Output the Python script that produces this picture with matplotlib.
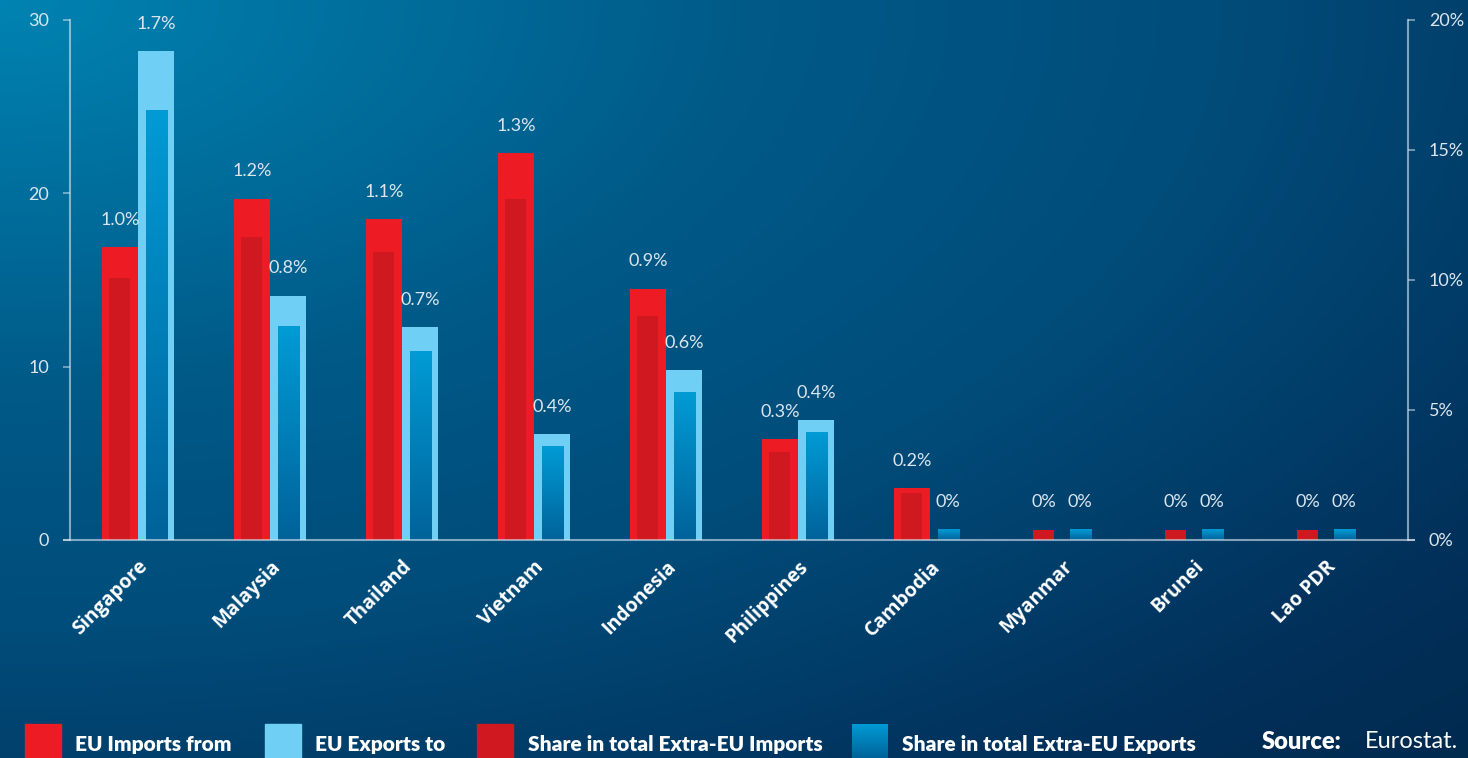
import numpy as np
import matplotlib
matplotlib.use("Agg")
import matplotlib.pyplot as plt
from matplotlib.colors import LinearSegmentedColormap
from matplotlib.patches import Rectangle

countries = ["Singapore", "Malaysia", "Thailand", "Vietnam", "Indonesia",
             "Philippines", "Cambodia", "Myanmar", "Brunei", "Lao PDR"]

# EU trade values (left axis)
eu_imports = [16.9, 19.7, 18.5, 22.3, 14.5, 5.8, 3.0, 0, 0, 0]
eu_exports = [28.2, 14.1, 12.3, 6.1, 9.8, 6.9, 0, 0, 0, 0]

# inner share bars
share_imports = [15.1, 17.5, 16.6, 19.7, 12.9, 5.1, 2.7, 0.6, 0.6, 0.6]
share_exports = [24.8, 12.3, 10.9, 5.4, 8.5, 6.2, 0.6, 0.6, 0.6, 0.6]

imp_labels = ["1.0%", "1.2%", "1.1%", "1.3%", "0.9%", "0.3%", "0.2%", "0%", "0%", "0%"]
exp_labels = ["1.7%", "0.8%", "0.7%", "0.4%", "0.6%", "0.4%", "0%", "0%", "0%", "0%"]

left_ticks = [0, 10, 20, 30]
right_ticks = [0, 5, 10, 15, 20]

RED = "#ed1c24"
DARK_RED = "#cf181f"
LIGHT_BLUE = "#70cff5"
TEXT = "#dce6ee"
AXIS = (0.85, 0.9, 0.94, 0.6)

W, H = 1468, 758
fig = plt.figure(figsize=(W / 100, H / 100), dpi=100)

# background gradient
bg = fig.add_axes([0, 0, 1, 1])
bg.axis("off")
U, V = np.meshgrid(np.linspace(0, 1, 400), np.linspace(0, 1, 220))
dist = np.sqrt(U ** 2 + V ** 2) / np.sqrt(2)
bg_cmap = LinearSegmentedColormap.from_list(
    "bg", [(0, "#0083b2"), (0.36, "#005a88"), (0.59, "#014c7a"),
           (0.875, "#02305a"), (1, "#012a4f")])
bg.imshow(dist, cmap=bg_cmap, aspect="auto", extent=[0, 1, 0, 1], origin="upper")

blue_cmap = LinearSegmentedColormap.from_list("blue", ["#00639a", "#009bd5"])
grad = np.linspace(0, 1, 100).reshape(-1, 1)

ax = fig.add_axes([70 / W, 1 - 540 / H, (1408 - 70) / W, (540 - 20) / H])
ax.set_facecolor("none")

x = np.arange(len(countries))
off = 0.138
w_out = 0.275
w_in = 0.16

ax.bar(x - off, eu_imports, w_out, color=RED, zorder=2)
ax.bar(x - off, share_imports, w_in, color=DARK_RED, zorder=3)
ax.bar(x + off, eu_exports, w_out, color=LIGHT_BLUE, zorder=2)
inner = ax.bar(x + off, share_exports, w_in, color="none", zorder=3)
for b in inner:
    ax.imshow(grad, cmap=blue_cmap, aspect="auto", origin="lower", zorder=3,
              extent=[b.get_x(), b.get_x() + b.get_width(), 0, b.get_height()])

ax.set_xlim(-0.515, 9.62)
ax.set_ylim(0, 30)

# share labels above each pair of bars
for i in range(len(countries)):
    top_i = max(eu_imports[i], share_imports[i])
    top_e = max(eu_exports[i], share_exports[i])
    ax.annotate(imp_labels[i], (x[i] - off, top_i), xytext=(0, 16),
                textcoords="offset points", ha="center", va="baseline",
                color=TEXT, fontsize=13, family="Lato")
    ax.annotate(exp_labels[i], (x[i] + off, top_e), xytext=(0, 16),
                textcoords="offset points", ha="center", va="baseline",
                color=TEXT, fontsize=13, family="Lato")

ax.set_yticks(left_ticks)
ax.set_yticklabels([str(t) for t in left_ticks], family="Lato", fontsize=13, color=TEXT)
ax.set_xticks(x)
ax.set_xticklabels(countries, rotation=45, ha="right", rotation_mode="anchor",
                   family="Open Sans", fontweight="bold", fontsize=14, color="white")
ax.tick_params(axis="x", length=0, pad=12)
ax.tick_params(axis="y", length=5, width=1.2, color=AXIS, pad=10)

for s in ["top", "right"]:
    ax.spines[s].set_visible(False)
for s in ["left", "bottom"]:
    ax.spines[s].set_color(AXIS)
    ax.spines[s].set_linewidth(1.5)
    ax.spines[s].set_zorder(5)
ax.spines["bottom"].set_bounds(-0.56, 9.665)

ax2 = ax.twinx()
ax2.set_ylim(0, 20)
ax2.set_yticks(right_ticks)
ax2.set_yticklabels([f"{t}%" for t in right_ticks], family="Lato", fontsize=13, color=TEXT)
ax2.tick_params(axis="y", length=5, width=1.2, color=AXIS, pad=10)
for s in ["top", "left", "bottom"]:
    ax2.spines[s].set_visible(False)
ax2.spines["right"].set_color(AXIS)
ax2.spines["right"].set_linewidth(1.5)

# legend along the bottom edge
legend_items = [
    (25, 75, "EU Imports from", RED),
    (265, 315, "EU Exports to", LIGHT_BLUE),
    (477, 528, "Share in total Extra-EU Imports", DARK_RED),
    (852, 902, "Share in total Extra-EU Exports", None),
]
for sx, tx, label, col in legend_items:
    if col is None:
        lax = fig.add_axes([sx / W, 0, 36 / W, 34 / H])
        lax.axis("off")
        lax.imshow(grad, cmap=blue_cmap, aspect="auto", origin="lower")
    else:
        fig.add_artist(Rectangle((sx / W, 0), 36 / W, 34 / H,
                                 transform=fig.transFigure, color=col))
    fig.text(tx / W, 1 - 744 / H, label, ha="left", va="center", color="white",
             fontsize=15, fontweight="heavy", family="Lato")

fig.text(1262 / W, 1 - 742 / H, "Source:", ha="left", va="center", color="white",
         fontsize=17, fontweight="heavy", family="Lato")
fig.text(1458 / W, 1 - 742 / H, "Eurostat.", ha="right", va="center", color="white",
         fontsize=17, family="Lato")

fig.savefig("out.png", dpi=100)
